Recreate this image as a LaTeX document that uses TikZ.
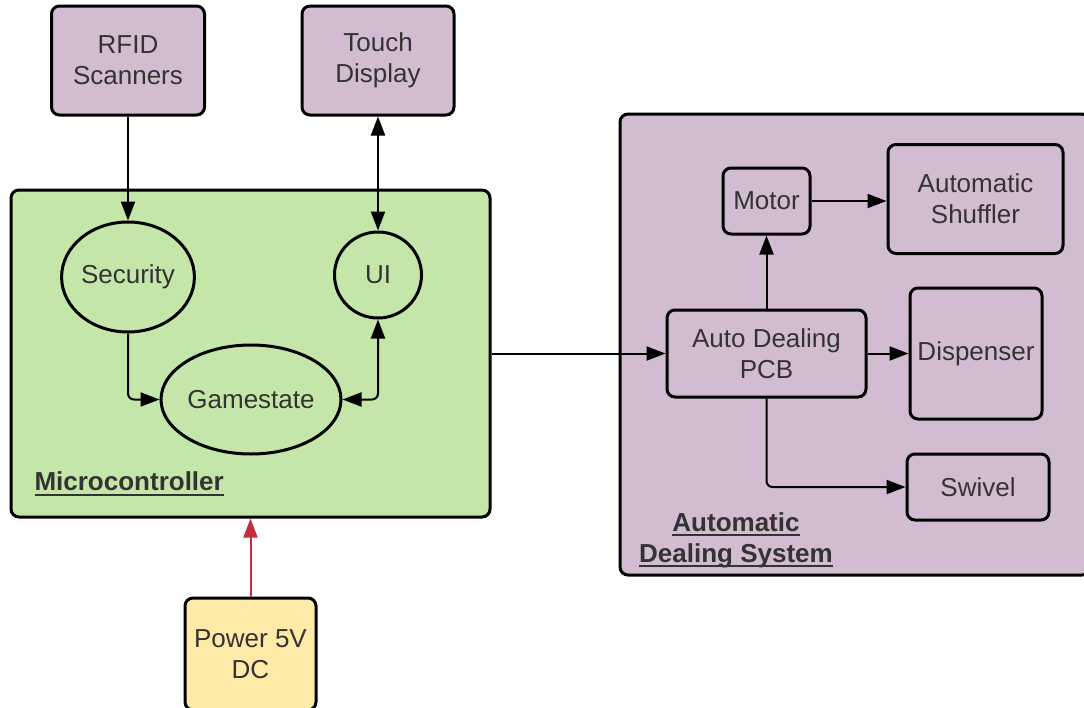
\documentclass[tikz,border=0pt]{standalone}
\usepackage{fontspec}
\setmainfont{Liberation Sans}
\definecolor{bdPurple}{RGB}{210, 188, 210}
\definecolor{bdGreen}{RGB}{197, 230, 169}
\definecolor{bdYellow}{RGB}{255, 234, 167}
\definecolor{bdRed}{RGB}{196, 45, 62}
\definecolor{bdText}{RGB}{51, 51, 51}
\usetikzlibrary{shapes.geometric, arrows.meta, calc}
\newcommand{\thickul}[1]{\setbox0\hbox{#1}\rlap{\raisebox{-5pt}{\rule{\wd0}{2.2pt}}}\box0}
\tikzset{
  block/.style={rectangle, rounded corners=8pt, draw=black, line width=3pt, fill=#1, align=center, text=bdText, inner sep=0pt},
  block/.default=bdPurple,
  blob/.style={ellipse, draw=black, line width=3pt, fill=bdGreen, align=center, text=bdText, inner sep=0pt},
  grouplabel/.style={font=\fontsize{26}{31}\selectfont\bfseries, text=bdText, align=center},
  myarrow/.style={-{Triangle[length=19pt, width=14pt]}, line width=2pt, black, rounded corners=6pt},
  twoarrow/.style={{Triangle[length=19pt, width=14pt]}-{Triangle[length=19pt, width=14pt]}, line width=2pt, black, rounded corners=6pt},
}

\begin{document}
\begin{tikzpicture}[x=1pt, y=-1pt, font=\fontsize{26}{31}\selectfont]
  \useasboundingbox (0,0) rectangle (1084,707);

  % Containers
  \node[block=bdGreen, minimum width=479pt, minimum height=327pt] (micro) at (250.5, 353.5) {};
  \node[block=bdPurple, minimum width=470pt, minimum height=461pt] (ads) at (855, 344.5) {};

  % Inputs and outputs of the microcontroller
  \node[block, minimum width=153pt, minimum height=109pt] (rfid) at (128, 60.5) {RFID\\Scanners};
  \node[block, minimum width=152pt, minimum height=109pt] (touch) at (378, 60.5) {Touch\\Display};
  \node[block=bdYellow, minimum width=131pt, minimum height=112pt] (pwr) at (250.5, 654) {Power 5V\\DC};

  % Microcontroller parts
  \node[blob, minimum width=130pt, minimum height=110pt] (sec) at (128, 277) {Security};
  \node[blob, minimum width=87pt, minimum height=86pt] (ui) at (378, 275) {UI};
  \node[blob, minimum width=180pt, minimum height=109pt] (game) at (251, 399.5) {Gamestate};
  \node[grouplabel, anchor=west] (microlbl) at (31, 484) {\thickul{Microcontroller}};

  % Dealing system parts
  \node[block, minimum width=87pt, minimum height=66pt] (motor) at (766.5, 201) {Motor};
  \node[block, minimum width=175pt, minimum height=109pt] (shuf) at (975.5, 199) {Automatic\\Shuffler};
  \node[block, minimum width=199pt, minimum height=87pt] (pcb) at (766.5, 353.5) {Auto Dealing\\PCB};
  \node[block, minimum width=132pt, minimum height=131pt] (disp) at (976, 353.5) {Dispenser};
  \node[block, minimum width=142pt, minimum height=66pt] (swiv) at (978, 487) {Swivel};
  \node[grouplabel] (adslbl) at (736, 540) {\thickul{Automatic}\\\thickul{Dealing System}};

  % Arrows
  \draw[myarrow] (rfid) -- (sec);
  \draw[twoarrow] (touch) -- (ui);
  \draw[myarrow] (sec.south) |- (game.west);
  \draw[twoarrow] (game.east) -| (ui.south);
  \draw[myarrow, bdRed] (pwr) -- (micro);
  \draw[myarrow] (micro) -- (pcb);
  \draw[myarrow] (pcb) -- (motor);
  \draw[myarrow] (motor) -- (motor.east -| shuf.west);
  \draw[myarrow] (pcb) -- (disp);
  \draw[myarrow] (pcb.south) |- (swiv.west);
\end{tikzpicture}
\end{document}
